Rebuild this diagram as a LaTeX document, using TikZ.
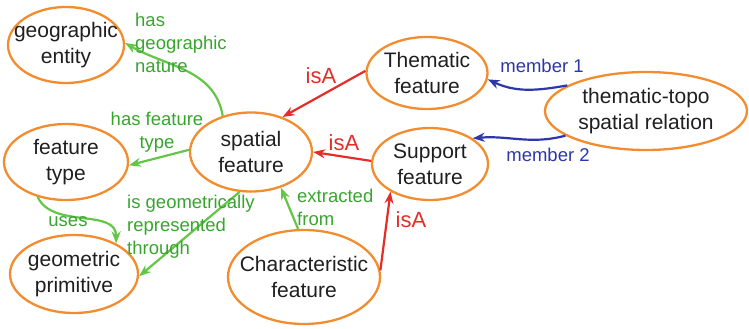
\documentclass[tikz,border=0pt]{standalone}
\usepackage{fontspec}
\setmainfont{Liberation Sans}
\usetikzlibrary{shapes.geometric,arrows.meta}
\definecolor{orng}{RGB}{242,140,46}
\definecolor{grnline}{RGB}{100,198,70}
\definecolor{grntext}{RGB}{55,165,45}
\definecolor{redc}{RGB}{228,45,40}
\definecolor{bluec}{RGB}{45,55,170}
\tikzset{
  concept/.style={ellipse, draw=orng, line width=2.3pt, inner sep=0pt},
  ctext/.style={inner sep=0pt, align=center, font=\fontsize{21}{26}\selectfont, text=black!88},
  lbl/.style={inner sep=0pt, font=\fontsize{18.5}{23}\selectfont},
  glbl/.style={lbl, text=grntext},
  rlbl/.style={inner sep=0pt, font=\fontsize{22}{25}\selectfont, text=redc},
  blbl/.style={lbl, text=bluec},
  garr/.style={draw=grnline, line width=2.2pt, -{Stealth[length=12pt,width=9pt]}},
  rarr/.style={draw=redc, line width=2.2pt, -{Stealth[length=12pt,width=9pt]}},
  barr/.style={draw=bluec, line width=2.2pt, -{Stealth[length=12pt,width=9pt]}}
}
\begin{document}
\begin{tikzpicture}[x=1pt,y=-1pt]
\useasboundingbox (0,0) rectangle (749,329);
% concepts
\node[concept, minimum width=116pt, minimum height=76pt, label={[ctext]center:geographic\\entity}] (ge) at (66,45) {};
\node[concept, minimum width=124pt, minimum height=76pt, label={[ctext]center:feature\\type}] (ft) at (66,162) {};
\node[concept, minimum width=128pt, minimum height=78pt, label={[ctext]center:geometric\\primitive}] (gp) at (74,274) {};
\node[concept, minimum width=122pt, minimum height=79pt, label={[ctext]center:spatial\\feature}] (sp) at (251,152) {};
\node[concept, minimum width=121pt, minimum height=72pt, label={[ctext]center:Thematic\\feature}] (tf) at (427,73) {};
\node[concept, minimum width=116pt, minimum height=72pt, label={[ctext]center:Support\\feature}] (sf) at (430,164) {};
\node[concept, minimum width=202pt, minimum height=78pt, label={[ctext]center:thematic-topo\\spatial relation}] (tt) at (646,111) {};
\node[concept, minimum width=152pt, minimum height=94pt, label={[ctext]center:Characteristic\\feature}] (cf) at (304,277) {};
% green edges
\draw[garr] (sp.128) to[out=100,in=-30] (ge.2);
\draw[garr] (sp.178) -- (ft.-3);
\draw[garr] (sp.-106) -- (gp.-2);
\draw[garr] (ft.-129) to[out=-65,in=90] (gp.36);
\draw[garr] (cf.97) -- (sp.-50);
% red edges
\draw[rarr] (tf.178) -- (sp.48);
\draw[rarr] (sf.177) -- (sp.0);
\draw[rarr] (cf.5) -- (sf.-145);
% blue edges
\draw[barr] (tt.162) to[out=190,in=-25] (tf.-6);
\draw[barr] (tt.-163) to[out=195,in=5] (sf.31);
% labels
\node[glbl, align=left, anchor=west] (l1) at (135,43) {has\\geographic\\nature};
\node[glbl, align=center] (l2) at (157,132) {has feature\\type};
\node[glbl] (l3) at (68,222) {uses};
\node[glbl, align=left, anchor=west] (l4) at (127,227) {is geometrically\\represented\\through};
\node[glbl, align=left, anchor=west] (l5) at (297,207) {extracted\\from};
\node[rlbl] (r1) at (321,76) {isA};
\node[rlbl] (r2) at (344,143) {isA};
\node[rlbl] (r3) at (411,220) {isA};
\node[blbl] (b1) at (542,66) {member 1};
\node[blbl] (b2) at (548,155) {member 2};
\end{tikzpicture}
\end{document}
